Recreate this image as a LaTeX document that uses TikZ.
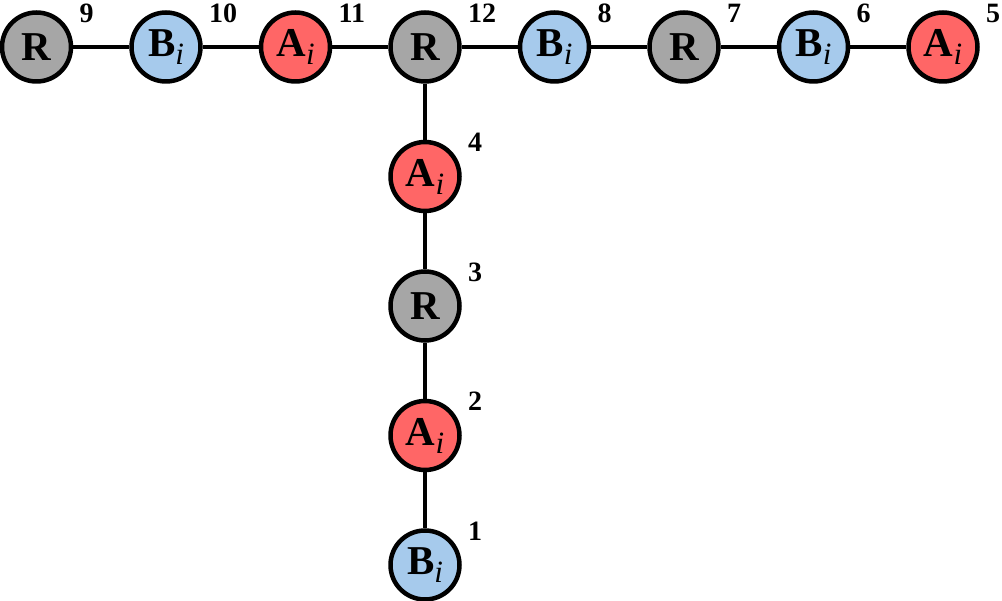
\documentclass[tikz,border=0pt]{standalone}
\usepackage{fontspec}
\setmainfont{Liberation Serif}
\definecolor{cgray}{RGB}{166,166,166}
\definecolor{cblue}{RGB}{166,202,236}
\definecolor{cred}{RGB}{255,102,102}
\newcommand{\subi}{\raisebox{-8pt}{\fontsize{31}{31}\selectfont\mdseries\itshape i}}
\begin{document}
\begin{tikzpicture}[x=1pt,y=-1pt,
  vtx/.style={circle,draw=black,line width=4.5pt,minimum size=69pt,inner sep=0pt,
    font=\fontsize{41}{41}\selectfont\bfseries},
  rnode/.style={vtx,fill=cgray},
  bnode/.style={vtx,fill=cblue},
  anode/.style={vtx,fill=cred},
  lbl/.style={anchor=west,inner sep=0pt,font=\fontsize{28}{28}\selectfont\bfseries},
  edge/.style={line width=4.5pt}]
\useasboundingbox (0,0) rectangle (1002,601);
% top row
\node[rnode] (n9)  at (36.5,47) {R};
\node[bnode] (n10) at (166,47) {B\subi};
\node[anode] (n11) at (295.5,47) {A\subi};
\node[rnode] (n12) at (425,47) {R};
\node[bnode] (n8)  at (554.5,47) {B\subi};
\node[rnode] (n7)  at (684,47) {R};
\node[bnode] (n6)  at (813.5,47) {B\subi};
\node[anode] (n5)  at (943,47) {A\subi};
% vertical
\node[anode] (n4) at (425,176.5) {A\subi};
\node[rnode] (n3) at (425,306) {R};
\node[anode] (n2) at (425,435.5) {A\subi};
\node[bnode] (n1) at (425,565) {B\subi};
% edges
\draw[edge] (n9) -- (n10);
\draw[edge] (n10) -- (n11);
\draw[edge] (n11) -- (n12);
\draw[edge] (n12) -- (n8);
\draw[edge] (n8) -- (n7);
\draw[edge] (n7) -- (n6);
\draw[edge] (n6) -- (n5);
\draw[edge] (n12) -- (n4);
\draw[edge] (n4) -- (n3);
\draw[edge] (n3) -- (n2);
\draw[edge] (n2) -- (n1);
% labels
\foreach \n/\t in {n9/9,n10/10,n11/11,n12/12,n8/8,n7/7,n6/6,n5/5,n4/4,n3/3,n2/2,n1/1}
  \node[lbl] (l\n) at ([xshift=43pt,yshift=34pt]\n.center) {\t};
\end{tikzpicture}
\end{document}
